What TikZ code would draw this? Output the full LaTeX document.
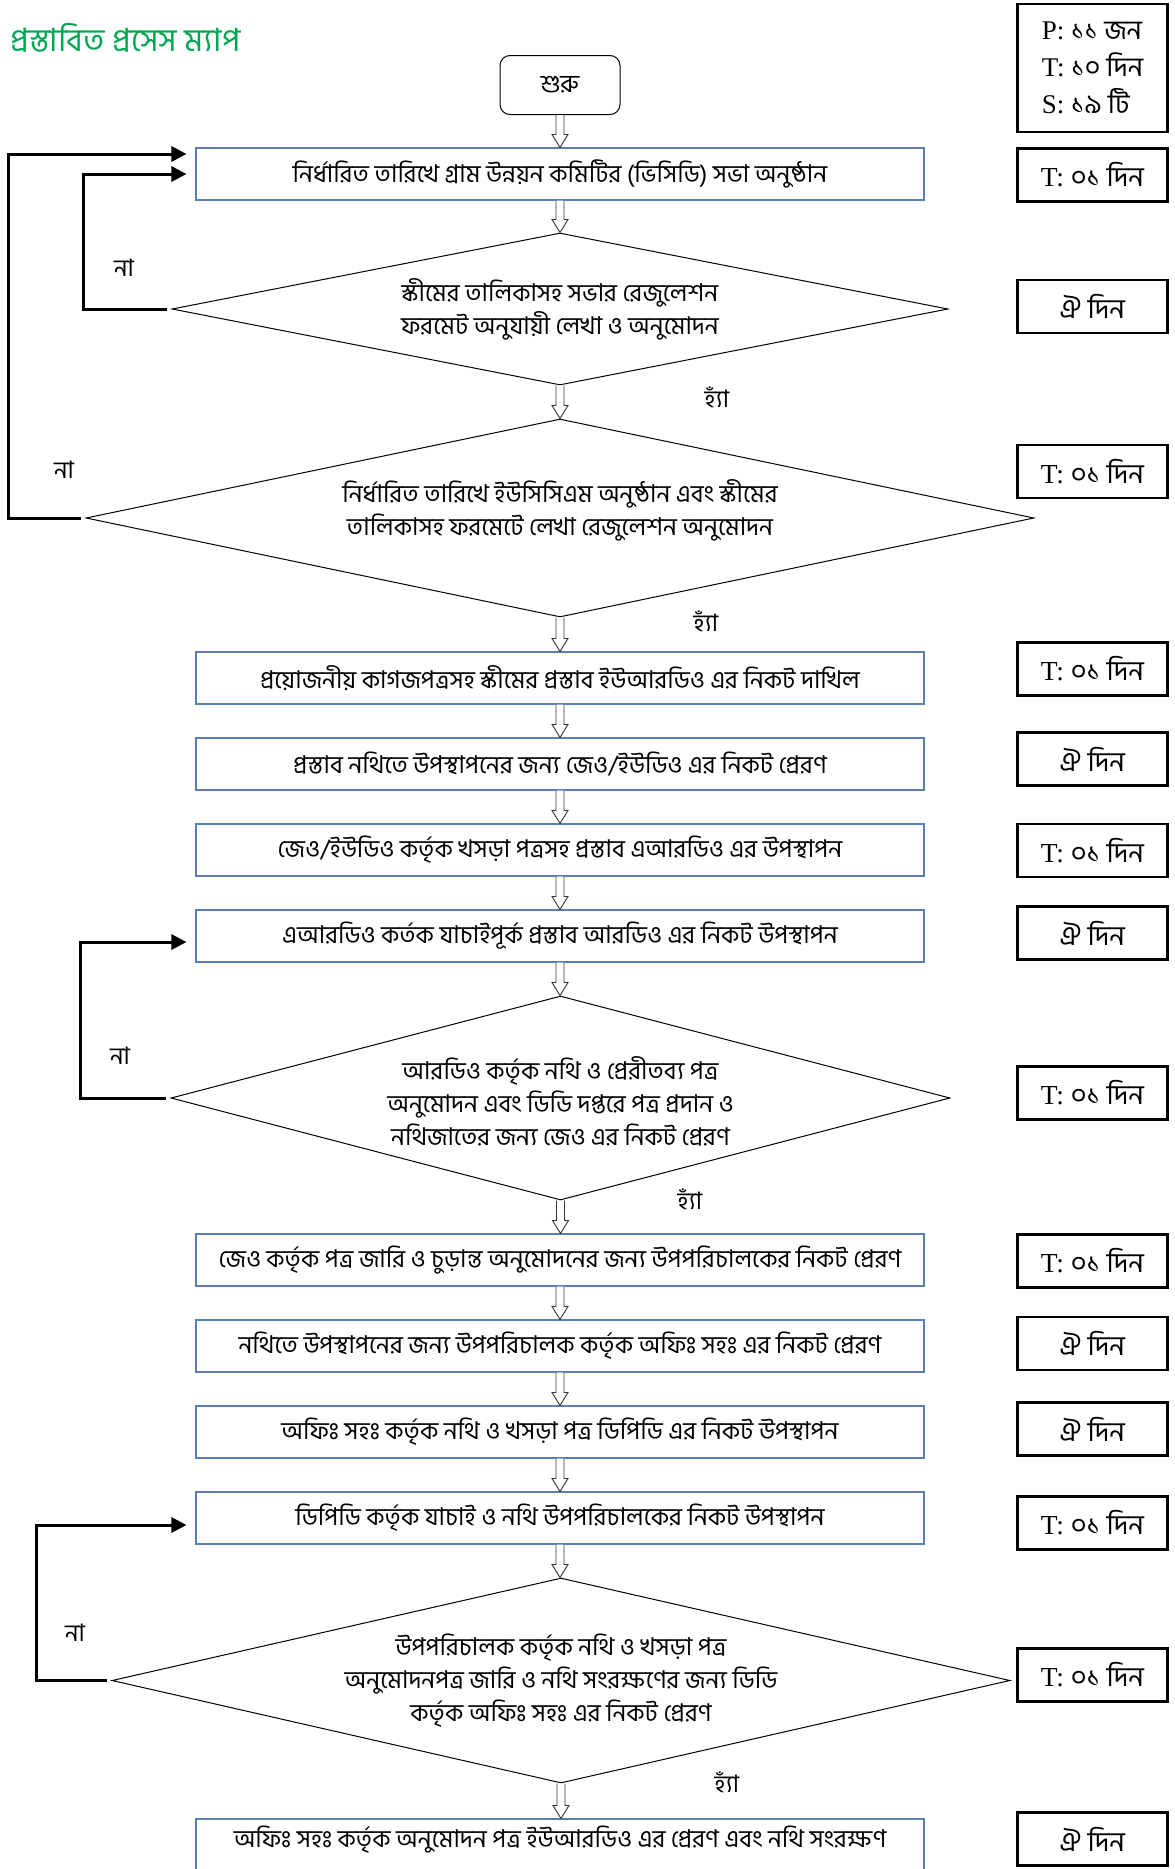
\documentclass[tikz,border=0pt]{standalone}
\usepackage{fontspec}
\setmainfont{Liberation Serif}
\newfontfamily\bn[Script=Bengali]{Hind Siliguri}
\usetikzlibrary{shapes.geometric,arrows.meta,calc}
\definecolor{boxblue}{RGB}{90,125,180}
\definecolor{titlegreen}{RGB}{0,166,80}
\tikzset{
 mainbox/.style={draw=boxblue,line width=1.1pt,minimum width=728pt,minimum height=52pt,inner sep=0pt,font=\bn\fontsize{24.5}{28}\selectfont},
 sidebox/.style={draw=black,line width=2.6pt,minimum width=150pt,minimum height=53pt,inner sep=0pt,font=\fontsize{27.5}{32}\selectfont},
 dia/.style={draw=black,line width=1pt,shape=diamond,inner sep=0pt},
 diatext/.style={align=center,font=\bn\fontsize{24.5}{33}\selectfont},
 lbl/.style={font=\bn\fontsize{24}{28}\selectfont},
 loopline/.style={line width=3pt,-{Triangle[length=15pt,width=15pt]},shorten >=9pt,shorten <=5pt},
 barrow/.style={draw=black!80,line width=0.9pt,fill=white},
}
\newcommand{\blockarr}[2]{\draw[barrow] let \p1=(#1), \p2=(#2) in (\x1-4,\y1) -- (\x1-4,\y2+13) -- (\x1-8,\y2+13) -- (\x1,\y2) -- (\x1+8,\y2+13) -- (\x1+4,\y2+13) -- (\x1+4,\y1);}
\newcommand{\Tday}{T: {\bn ০১ দিন}}
\newcommand{\Oday}{{\bn ঐ দিন}}
\begin{document}
\begin{tikzpicture}[x=1pt,y=-1pt]
\useasboundingbox (0,0) rectangle (1175,1869);
% title
\node[anchor=west,text=titlegreen,font=\bn\fontsize{32}{36}\selectfont,inner sep=0pt] (title) at (10,38) {প্রস্তাবিত প্রসেস ম্যাপ};
% start
\node[draw,line width=1pt,rounded corners=10pt,minimum width=120pt,minimum height=59pt,inner sep=0pt,font=\bn\fontsize{25}{28}\selectfont] (start) at (560,85) {শুরু};
% main flow
\node[mainbox] (b1) at (560,174) {নির্ধারিত তারিখে গ্রাম উন্নয়ন কমিটির (ভিসিডি) সভা অনুষ্ঠান};
\node[dia,minimum width=776pt,minimum height=152pt] (d1) at (560,309) {};
\node[diatext] (d1t) at (d1.center) {স্কীমের তালিকাসহ সভার রেজুলেশন\\ফরমেট অনুযায়ী লেখা ও অনুমোদন};
\node[dia,minimum width=948pt,minimum height=198pt] (d2) at (560,518) {};
\node[diatext] (d2t) at ($(d2.center)+(0,-8)$) {নির্ধারিত তারিখে ইউসিসিএম অনুষ্ঠান এবং স্কীমের\\তালিকাসহ ফরমেটে লেখা রেজুলেশন অনুমোদন};
\node[mainbox] (b2) at (560,678) {প্রয়োজনীয় কাগজপত্রসহ স্কীমের প্রস্তাব ইউআরডিও এর নিকট দাখিল};
\node[mainbox] (b3) at (560,764) {প্রস্তাব নথিতে উপস্থাপনের জন্য জেও/ইউডিও এর নিকট প্রেরণ};
\node[mainbox] (b4) at (560,850) {জেও/ইউডিও কর্তৃক খসড়া পত্রসহ প্রস্তাব এআরডিও এর উপস্থাপন};
\node[mainbox] (b5) at (560,936) {এআরডিও কর্তক যাচাইপূর্ক প্রস্তাব আরডিও এর নিকট উপস্থাপন};
\node[dia,minimum width=779pt,minimum height=204pt] (d3) at (560.5,1098) {};
\node[diatext] (d3t) at ($(d3.center)+(0,3)$) {আরডিও কর্তৃক নথি ও প্রেরীতব্য পত্র\\অনুমোদন এবং ডিডি দপ্তরে পত্র প্রদান ও\\নথিজাতের জন্য জেও এর নিকট প্রেরণ};
\node[mainbox] (b6) at (560,1260) {জেও কর্তৃক পত্র জারি ও চুড়ান্ত অনুমোদনের জন্য উপপরিচালকের নিকট প্রেরণ};
\node[mainbox] (b7) at (560,1346) {নথিতে উপস্থাপনের জন্য উপপরিচালক কর্তৃক অফিঃ সহঃ এর নিকট প্রেরণ};
\node[mainbox] (b8) at (560,1432) {অফিঃ সহঃ কর্তৃক নথি ও খসড়া পত্র ডিপিডি এর নিকট উপস্থাপন};
\node[mainbox] (b9) at (560,1518) {ডিপিডি কর্তৃক যাচাই ও নথি উপপরিচালকের নিকট উপস্থাপন};
\node[dia,minimum width=898pt,minimum height=205pt] (d4) at (561,1680.5) {};
\node[diatext] (d4t) at (d4.center) {উপপরিচালক কর্তৃক নথি ও খসড়া পত্র\\অনুমোদনপত্র জারি ও নথি সংরক্ষণের জন্য ডিডি\\কর্তৃক অফিঃ সহঃ এর নিকট প্রেরণ};
\node[mainbox] (b10) at (560,1845) {};
\node[font=\bn\fontsize{24.5}{28}\selectfont] (b10t) at (560,1840) {অফিঃ সহঃ কর্তৃক অনুমোদন পত্র ইউআরডিও এর প্রেরণ এবং নথি সংরক্ষণ};
% block arrows
\blockarr{start.south}{b1.north}
\blockarr{b1.south}{d1.north}
\blockarr{d1.south}{d2.north}
\blockarr{d2.south}{b2.north}
\blockarr{b2.south}{b3.north}
\blockarr{b3.south}{b4.north}
\blockarr{b4.south}{b5.north}
\blockarr{b5.south}{d3.north}
\blockarr{d3.south}{b6.north}
\blockarr{b6.south}{b7.north}
\blockarr{b7.south}{b8.north}
\blockarr{b8.south}{b9.north}
\blockarr{b9.south}{d4.north}
\blockarr{d4.south}{b10.north}
% loops
\draw[loopline] (d1.west) -- ++(-88,0) |- (b1.west);
\draw[loopline] (d2.west) -- ++(-77,0) |- ($(b1.west)+(0,-20)$);
\draw[loopline] (d3.west) -- ++(-90,0) |- ($(b5.west)+(0,6)$);
\draw[loopline] (d4.west) -- ++(-75,0) |- ($(b9.west)+(0,7)$);
% labels
\node[lbl] (n1) at (124,268) {না};
\node[lbl] (n2) at (64,470) {না};
\node[lbl] (n3) at (120,1056) {না};
\node[lbl] (n4) at (75,1633) {না};
\node[lbl] (y1) at (717,397) {হ্যাঁ};
\node[lbl] (y2) at (706,621) {হ্যাঁ};
\node[lbl] (y3) at (690,1199) {হ্যাঁ};
\node[lbl] (y4) at (727,1782) {হ্যাঁ};
% side boxes
\node[sidebox,minimum height=128pt] (s0) at (1092.5,68) {};
\node[align=left,font=\fontsize{27}{37}\selectfont] (s0t) at (s0.center) {P: {\bn ১১ জন}\\T: {\bn ১০ দিন}\\S: {\bn ১৯ টি}};
\node[sidebox] (s1) at (1092.5,175) {\Tday};
\node[sidebox] (s2) at (1092.5,306.5) {\Oday};
\node[sidebox] (s3) at (1092.5,471.5) {\Tday};
\node[sidebox] (s4) at (1092.5,669) {\Tday};
\node[sidebox] (s5) at (1092.5,759) {\Oday};
\node[sidebox] (s6) at (1092.5,850.5) {\Tday};
\node[sidebox] (s7) at (1092.5,933) {\Oday};
\node[sidebox] (s8) at (1092.5,1093) {\Tday};
\node[sidebox] (s9) at (1092.5,1261) {\Tday};
\node[sidebox] (s10) at (1092.5,1343.5) {\Oday};
\node[sidebox] (s11) at (1092.5,1429) {\Oday};
\node[sidebox] (s12) at (1092.5,1523) {\Tday};
\node[sidebox] (s13) at (1092.5,1675) {\Tday};
\node[sidebox] (s14) at (1092.5,1839) {\Oday};
\end{tikzpicture}
\end{document}
